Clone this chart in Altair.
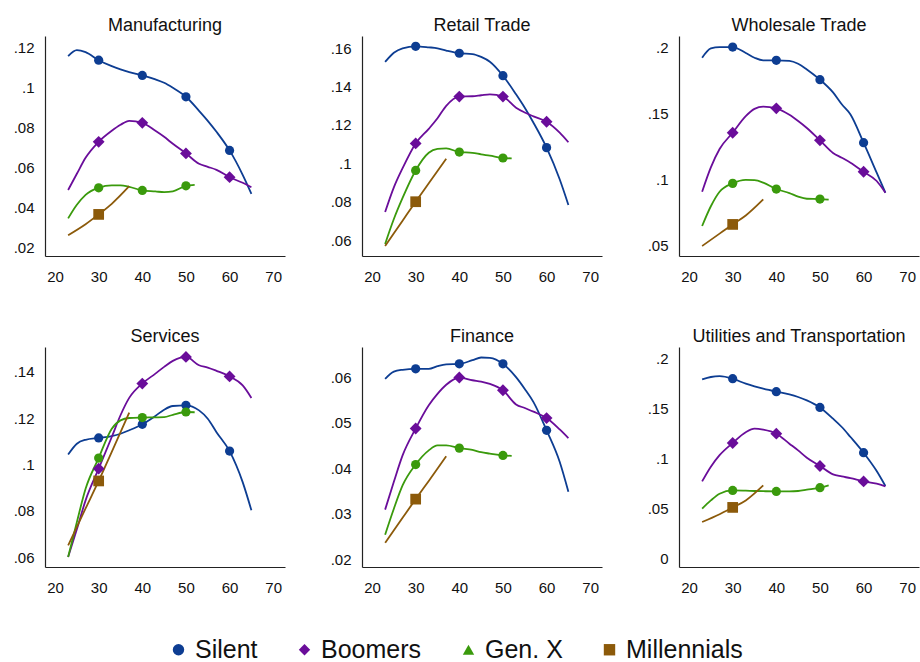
import altair as alt
import pandas as pd

FONT = "Liberation Sans"

GENS = ["Silent", "Boomers", "Gen. X", "Millennials"]
COLORS = ["#0d3d92", "#6a0d9a", "#3a9a0c", "#8c5a0a"]
LEGEND_SHAPES = ["circle", "diamond", "triangle-up", "square"]

# Age grids on which each generation is observed
AGES_LONG = [23, 25, 27, 30, 33, 35, 37, 40, 43, 45, 47, 50, 53, 55, 57, 60, 63, 65]
AGES_GENX = [23, 25, 27, 30, 33, 35, 37, 40, 43, 45, 47, 50, 52]
AGES_MILL = [23, 27, 30, 33, 37]
MARKER_AGES = [30, 40, 50, 60]

# Manufacturing
MFG_SILENT = [.1158, .1188, .1178, .1138, .1108, .1092, .1078, .1062, .1042, .1025, .1000, .0955, .0885, .0835, .0780, .0687, .0565, .0470]
MFG_BOOMERS = [.0489, .0570, .0650, .0730, .0785, .0815, .0835, .0825, .0785, .0755, .0720, .0672, .0620, .0605, .0590, .0553, .0525, .0503]
MFG_GENX = [.0347, .0415, .0465, .0500, .0512, .0512, .0505, .0487, .0482, .0478, .0482, .0510, .0515]
MFG_MILL = [.0263, .0318, .0367, .0420, .0508]

# Retail Trade
RET_SILENT = [.1529, .1577, .1600, .1610, .1605, .1600, .1588, .1574, .1570, .1555, .1530, .1457, .1360, .1290, .1212, .1082, .0917, .0783]
RET_BOOMERS = [.0746, .0875, .0975, .1104, .1180, .1235, .1300, .1348, .1350, .1355, .1360, .1348, .1290, .1265, .1245, .1217, .1160, .1110]
RET_GENX = [.0580, .0710, .0820, .0963, .1055, .1075, .1078, .1059, .1055, .1047, .1040, .1028, .1026]
RET_MILL = [.0569, .0701, .0800, .0896, .1024]

# Wholesale Trade
WHS_SILENT = [.1924, .1995, .2005, .2005, .1960, .1924, .1904, .1904, .1900, .1878, .1835, .1757, .1660, .1570, .1493, .1278, .1050, .0898]
WHS_BOOMERS = [.0905, .1090, .1230, .1354, .1480, .1535, .1552, .1539, .1490, .1443, .1390, .1296, .1200, .1164, .1126, .1057, .0987, .0898]
WHS_GENX = [.0645, .0795, .0905, .0969, .0995, .0993, .0975, .0926, .0895, .0868, .0852, .0850, .0845]
WHS_MILL = [.0493, .0587, .0657, .0725, .0847]

# Services
SRV_SILENT = [.1043, .1090, .1107, .1115, .1123, .1133, .1148, .1174, .1210, .1237, .1253, .1256, .1234, .1198, .1140, .1058, .0924, .0802]
SRV_BOOMERS = [.0600, .0720, .0845, .0982, .1119, .1213, .1288, .1350, .1393, .1422, .1448, .1465, .1429, .1419, .1405, .1381, .1342, .1288]
SRV_GENX = [.0600, .0751, .0895, .1028, .1155, .1191, .1201, .1203, .1204, .1205, .1215, .1227, .1226]
SRV_MILL = [.0650, .0810, .0929, .1055, .1224]

# Finance
FIN_SILENT = [.0596, .0612, .0616, .0618, .0618, .0624, .0628, .0629, .0637, .0643, .0642, .0629, .0600, .0574, .0545, .0483, .0414, .0348]
FIN_BOOMERS = [.0309, .0370, .0428, .0487, .0538, .0563, .0583, .0599, .0593, .0590, .0585, .0571, .0540, .0532, .0524, .0510, .0485, .0466]
FIN_GENX = [.0254, .0311, .0362, .0408, .0439, .0450, .0450, .0444, .0440, .0435, .0432, .0428, .0427]
FIN_MILL = [.0236, .0291, .0332, .0372, .0426]

# Utilities and Transportation
UTL_SILENT = [.1793, .1817, .1825, .1800, .1750, .1723, .1700, .1670, .1643, .1617, .1583, .1513, .1400, .1317, .1217, .1060, .0877, .0727]
UTL_BOOMERS = [.0773, .0920, .1035, .1157, .1265, .1300, .1290, .1250, .1150, .1083, .1010, .0927, .0843, .0823, .0805, .0773, .0750, .0723]
UTL_GENX = [.0500, .0583, .0650, .0683, .0680, .0677, .0675, .0673, .0673, .0677, .0690, .0710, .0733]
UTL_MILL = [.0367, .0445, .0513, .0583, .0733]

PANELS = [
    ("Manufacturing", [MFG_SILENT, MFG_BOOMERS, MFG_GENX, MFG_MILL], [0.0159, 0.1259], [0.02, 0.04, 0.06, 0.08, 0.10, 0.12]),
    ("Retail Trade", [RET_SILENT, RET_BOOMERS, RET_GENX, RET_MILL], [0.0517, 0.1664], [0.06, 0.08, 0.10, 0.12, 0.14, 0.16]),
    ("Wholesale Trade", [WHS_SILENT, WHS_BOOMERS, WHS_GENX, WHS_MILL], [0.0417, 0.2089], [0.05, 0.10, 0.15, 0.20]),
    ("Services", [SRV_SILENT, SRV_BOOMERS, SRV_GENX, SRV_MILL], [0.0557, 0.1508], [0.06, 0.08, 0.10, 0.12, 0.14]),
    ("Finance", [FIN_SILENT, FIN_BOOMERS, FIN_GENX, FIN_MILL], [0.0183, 0.0666], [0.02, 0.03, 0.04, 0.05, 0.06]),
    ("Utilities and Transportation", [UTL_SILENT, UTL_BOOMERS, UTL_GENX, UTL_MILL], [-0.0083, 0.2117], [0.0, 0.05, 0.10, 0.15, 0.20]),
]
AGE_GRIDS = [AGES_LONG, AGES_LONG, AGES_GENX, AGES_MILL]
X_TICKS = [20, 30, 40, 50, 60, 70]

color_scale = alt.Scale(domain=GENS, range=COLORS)
shape_scale = alt.Scale(domain=GENS, range=LEGEND_SHAPES)
y_label_expr = "datum.value == 0 ? '0' : replace(format(datum.value, '~g'), '0.', '.')"


def panel_frame(series):
    rows = []
    for gen, ages, values in zip(GENS, AGE_GRIDS, series):
        for a, v in zip(ages, values):
            rows.append({"gen": gen, "age": a, "share": v})
    return pd.DataFrame(rows)


def panel(title, series, ydom, yticks, with_legend=False):
    df = panel_frame(series)
    base = alt.Chart(df).encode(
        x=alt.X("age:Q", scale=alt.Scale(domain=[17.7, 72.7], nice=False, zero=False),
                axis=alt.Axis(values=X_TICKS, title=None)),
        y=alt.Y("share:Q", scale=alt.Scale(domain=ydom, nice=False, zero=False),
                axis=alt.Axis(values=yticks, title=None, labelExpr=y_label_expr)),
        color=alt.Color("gen:N", scale=color_scale, legend=None),
    )
    lines = base.mark_line(interpolate="monotone", strokeWidth=1.8)
    markers = base.transform_filter(
        alt.FieldOneOfPredicate(field="age", oneOf=MARKER_AGES)
    )
    circles = markers.transform_filter(
        alt.FieldOneOfPredicate(field="gen", oneOf=["Silent", "Gen. X"])
    ).mark_point(shape="circle", filled=True, opacity=1, size=85)
    diamonds = markers.transform_filter(
        alt.datum.gen == "Boomers"
    ).mark_point(shape="diamond", filled=True, opacity=1, size=140)
    squares = markers.transform_filter(
        alt.datum.gen == "Millennials"
    ).mark_point(shape="square", filled=True, opacity=1, size=115)
    layers = [lines, circles, diamonds, squares]
    if with_legend:
        # Key for the generations (no marks of its own), placed beneath the panels
        key_legend = alt.Legend(orient="none", direction="horizontal",
                                legendX=121, legendY=601)
        key = alt.Chart(pd.DataFrame({"gen": GENS})).mark_point(filled=True, opacity=1).encode(
            color=alt.Color("gen:N", scale=color_scale, title=None, legend=key_legend),
            shape=alt.Shape("gen:N", scale=shape_scale, title=None, legend=key_legend),
        ).transform_filter("false")
        layers.insert(0, key)
    return alt.layer(*layers).properties(
        width=240, height=220,
        title=alt.TitleParams(title, fontSize=18, font=FONT, fontWeight="normal",
                              anchor="middle", frame="group", offset=1, color="#111"),
    )


charts = [panel(t, s, d, ticks, with_legend=(i == 0)) for i, (t, s, d, ticks) in enumerate(PANELS)]
row1 = alt.hconcat(*charts[:3], spacing=37)
row2 = alt.hconcat(*charts[3:], spacing=37)

chart = alt.vconcat(row1, row2, spacing=44).properties(
    padding={"left": 5, "right": 1, "top": 17, "bottom": 5}
).configure_view(stroke=None).configure_axis(
    grid=False, ticks=False, domainColor="#222", domainWidth=1.2,
    labelFont=FONT, labelFontSize=15, labelColor="#111",
).configure_axisY(
    labelPadding=11, minExtent=40, maxExtent=40,
).configure_axisX(
    labelPadding=13, minExtent=26, maxExtent=26,
).configure_legend(
    labelFont=FONT, labelFontSize=25, labelColor="#111", symbolSize=130,
    symbolStrokeWidth=0, labelOffset=4, columnPadding=34,
)

chart.save("out.html", embed_options={"renderer": "svg", "actions": False})
